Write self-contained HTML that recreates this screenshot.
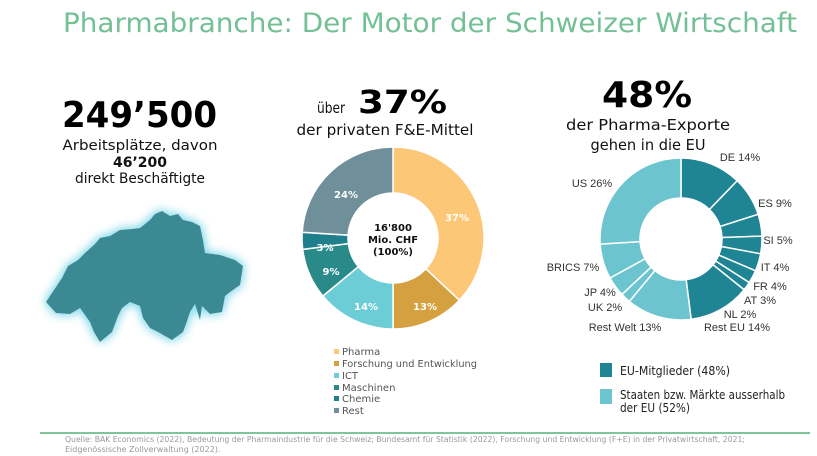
<!DOCTYPE html>
<html><head><meta charset="utf-8"><style>
html,body{margin:0;padding:0;background:#fff;width:817px;height:456px;overflow:hidden}
svg{display:block;font-family:"DejaVu Sans","Liberation Sans",sans-serif}
</style></head><body>
<svg id="s" width="817" height="456" viewBox="0 0 817 456" xmlns="http://www.w3.org/2000/svg">
<defs>
<filter id="glow" x="-30%" y="-30%" width="160%" height="160%">
<feGaussianBlur in="SourceAlpha" stdDeviation="5" result="b"/>
<feFlood flood-color="#8fdcec"/>
<feComposite in2="b" operator="in" result="g"/>
<feMerge><feMergeNode in="g"/><feMergeNode in="g"/><feMergeNode in="SourceGraphic"/></feMerge>
</filter>
</defs>
<text x="63" y="32" font-size="27" fill="#74c095" textLength="734" lengthAdjust="spacingAndGlyphs">Pharmabranche: Der Motor der Schweizer Wirtschaft</text>

<text x="62" y="127" font-size="36" font-weight="bold" fill="#000" textLength="155" lengthAdjust="spacingAndGlyphs">249’500</text>
<text x="140" y="150" font-size="14" fill="#111" text-anchor="middle" textLength="155" lengthAdjust="spacingAndGlyphs">Arbeitsplätze, davon</text>
<text x="140" y="167" font-size="14" font-weight="bold" fill="#111" text-anchor="middle">46’200</text>
<text x="140" y="183" font-size="14" fill="#111" text-anchor="middle" textLength="130" lengthAdjust="spacingAndGlyphs">direkt Beschäftigte</text>

<path filter="url(#glow)" fill="#3b8a93" d="M150,220 L155,214 L162,211 L170,216 L178,214 L183,220 L192,222 L200,226 L203,240 L205,253 L220,255 L235,260 L243,266 L240,285 L230,292 L225,296 L222,312 L210,314 L202,306 L200,320 L195,304 L190,312 L186,324 L183,332 L172,340 L158,332 L150,328 L143,318 L140,306 L130,302 L122,308 L118,316 L112,332 L100,342 L94,332 L90,322 L80,308 L70,314 L56,313 L46,302 L54,290 L62,278 L68,266 L78,260 L85,253 L95,244 L100,238 L110,236 L120,230 L132,229 L140,228 Z"/>

<text x="317" y="113" font-size="15" fill="#111" textLength="28" lengthAdjust="spacingAndGlyphs">über</text>
<text x="358" y="113" font-size="32" font-weight="bold" fill="#000" textLength="89" lengthAdjust="spacingAndGlyphs">37%</text>
<text x="385" y="135" font-size="15" fill="#111" text-anchor="middle" textLength="177" lengthAdjust="spacingAndGlyphs">der privaten F&amp;E-Mittel</text>

<text x="647" y="107" font-size="36" font-weight="bold" fill="#000" text-anchor="middle" textLength="90" lengthAdjust="spacingAndGlyphs">48%</text>
<text x="648" y="130" font-size="15" fill="#111" text-anchor="middle" textLength="164" lengthAdjust="spacingAndGlyphs">der Pharma-Exporte</text>
<text x="648" y="150" font-size="15" fill="#111" text-anchor="middle" textLength="115" lengthAdjust="spacingAndGlyphs">gehen in die EU</text>

<g id="d1"></g><g id="d2"></g>

<g font-size="10" font-weight="bold" fill="#fff" text-anchor="middle">
<text x="457" y="221">37%</text><text x="346" y="198">24%</text><text x="325" y="251">3%</text>
<text x="331" y="275">9%</text><text x="366" y="310">14%</text><text x="425" y="310">13%</text>
</g>
<g font-size="10" font-weight="bold" fill="#111" text-anchor="middle">
<text x="393" y="231">16'800</text><text x="393" y="243">Mio. CHF</text><text x="393" y="255">(100%)</text>
</g>

<g font-family="Liberation Sans, sans-serif" font-size="11" fill="#333" text-anchor="middle">
<text x="740" y="161">DE 14%</text><text x="775" y="207">ES 9%</text><text x="778" y="244">SI 5%</text>
<text x="775" y="271">IT 4%</text><text x="770" y="290">FR 4%</text><text x="760" y="304">AT 3%</text>
<text x="740" y="318">NL 2%</text><text x="737" y="331">Rest EU 14%</text><text x="625" y="331">Rest Welt 13%</text>
<text x="605" y="311">UK 2%</text><text x="600" y="296">JP 4%</text><text x="573" y="271">BRICS 7%</text>
<text x="592" y="187">US 26%</text>
</g>

<g font-size="10" fill="#555">
<rect x="334" y="349" width="5" height="5" fill="#fcc777"/><text x="342" y="355">Pharma</text>
<rect x="334" y="361" width="5" height="5" fill="#d4a040"/><text x="342" y="367" textLength="135" lengthAdjust="spacingAndGlyphs">Forschung und Entwicklung</text>
<rect x="334" y="373" width="5" height="5" fill="#6ccdd6"/><text x="342" y="379">ICT</text>
<rect x="334" y="385" width="5" height="5" fill="#2a8a8a"/><text x="342" y="391">Maschinen</text>
<rect x="334" y="396" width="5" height="5" fill="#1f7f8c"/><text x="342" y="402">Chemie</text>
<rect x="334" y="408" width="5" height="5" fill="#6f8f9a"/><text x="342" y="414">Rest</text>
</g>

<g font-size="12" fill="#222">
<rect x="600" y="363" width="12" height="14" fill="#1f8595"/><text x="620" y="375" textLength="110" lengthAdjust="spacingAndGlyphs">EU-Mitglieder (48%)</text>
<rect x="600" y="389" width="12" height="15" fill="#6cc4cf"/><text x="620" y="399" textLength="165" lengthAdjust="spacingAndGlyphs">Staaten bzw. Märkte ausserhalb</text><text x="620" y="412" textLength="70" lengthAdjust="spacingAndGlyphs">der EU (52%)</text>
</g>

<line x1="40" y1="433" x2="810" y2="433" stroke="#7fc49a" stroke-width="2"/>
<g font-size="8" fill="#999">
<text x="65" y="442" textLength="680" lengthAdjust="spacingAndGlyphs">Quelle: BAK Economics (2022), Bedeutung der Pharmaindustrie für die Schweiz; Bundesamt für Statistik (2022), Forschung und Entwicklung (F+E) in der Privatwirtschaft, 2021;</text>
<text x="65" y="452">Eidgenössische Zollverwaltung (2022).</text>
</g>
</svg>
<script>
function arcs(g,cx,cy,R,r,items){
 var ns="http://www.w3.org/2000/svg",a=0,tot=0;items.forEach(function(i){tot+=i[0]});
 items.forEach(function(i){
  var a0=a/tot*2*Math.PI,a1=(a+i[0])/tot*2*Math.PI;a+=i[0];
  function p(rad,t){return (cx+rad*Math.sin(t)).toFixed(2)+","+(cy-rad*Math.cos(t)).toFixed(2)}
  var l=(a1-a0)>Math.PI?1:0;
  var d="M"+p(R,a0)+" A"+R+","+R+" 0 "+l+" 1 "+p(R,a1)+" L"+p(r,a1)+" A"+r+","+r+" 0 "+l+" 0 "+p(r,a0)+" Z";
  var e=document.createElementNS(ns,"path");e.setAttribute("d",d);e.setAttribute("fill",i[1]);
  e.setAttribute("stroke","#fff");e.setAttribute("stroke-width","1.5");g.appendChild(e);
 });
}
arcs(document.getElementById("d1"),393,238,91,45,[[37,"#fcc777"],[13,"#d4a040"],[14,"#6ccdd6"],[9,"#2a8a8a"],[3,"#1f7f8c"],[24,"#6f8f9a"]]);
var k=48/55,E="#1f8595",N="#6cc4cf";
arcs(document.getElementById("d2"),681,239,81,41,[[14*k,E],[9*k,E],[5*k,E],[4*k,E],[4*k,E],[3*k,E],[2*k,E],[14*k,E],[13,N],[2,N],[4,N],[7,N],[26,N]]);
</script>
</body></html>
